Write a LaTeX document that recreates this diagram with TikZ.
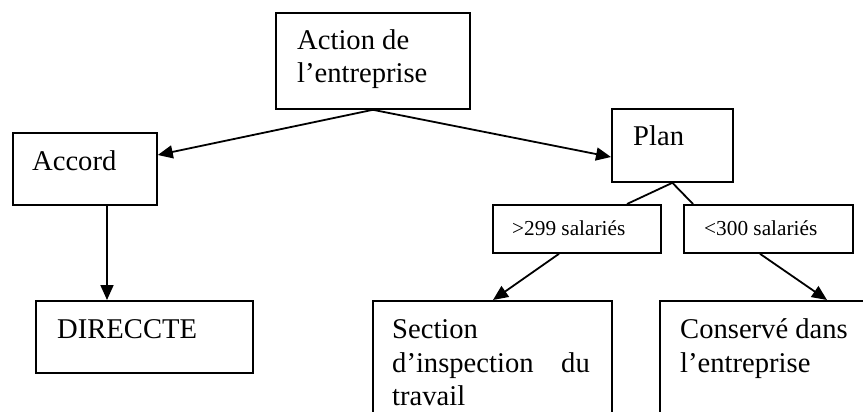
\documentclass[tikz,border=0pt]{standalone}
\usepackage{fontspec}
\setmainfont{Liberation Serif}
\usetikzlibrary{arrows.meta,calc}
\begin{document}
\begin{tikzpicture}[x=1pt,y=-1pt,
  box/.style={draw,line width=1.8pt,rectangle,inner sep=0pt,anchor=north west},
  big/.style={inner sep=0pt,font=\fontsize{28.6}{33}\selectfont},
  small/.style={inner sep=0pt,font=\fontsize{21.3}{25}\selectfont},
  conn/.style={line width=1.8pt},
  arr/.style={line width=1.8pt,-{Triangle[length=15pt,width=13pt]}}]
\useasboundingbox (0,0) rectangle (863,412);
\clip (0,0) rectangle (863,412);
% boxes
\node[box,minimum width=194pt,minimum height=96pt] (action) at (275,12) {};
\node[box,minimum width=144pt,minimum height=72pt] (accord) at (12,132) {};
\node[box,minimum width=121pt,minimum height=73pt] (plan) at (611,108) {};
\node[box,minimum width=217pt,minimum height=72pt] (dir) at (35,300) {};
\node[box,minimum width=168pt,minimum height=48pt] (gt) at (492,204) {};
\node[box,minimum width=169pt,minimum height=48pt] (lt) at (683,204) {};
\node[box,minimum width=239pt,minimum height=140pt] (sec) at (372,300) {};
\node[box,minimum width=230pt,minimum height=140pt] (cons) at (659,300) {};
% texts
\node[big,anchor=base west] (t1) at (297,50) {Action de};
\node[big,anchor=base west] (t2) at (297,83) {l’entreprise};
\node[big,anchor=base west] (t3) at (32,170) {Accord};
\node[big,anchor=base west] (t4) at (633,145) {Plan};
\node[big,anchor=base west] (t5) at (57,338) {DIRECCTE};
\node[small,anchor=base west] (t6) at (512,235) {>299 salariés};
\node[small,anchor=base west] (t7) at (704,235) {<300 salariés};
\node[big,anchor=base west] (t8) at (392,338) {Section};
\node[big,anchor=base west] (t9) at (392,372) {d’inspection};
\node[big,anchor=base east] (t10) at (590,372) {du};
\node[big,anchor=base west] (t11) at (392,405) {travail};
\node[big,anchor=base west] (t12) at (680,338) {Conservé dans};
\node[big,anchor=base west] (t13) at (680,372) {l’entreprise};
% connectors
\draw[arr] (action.south) -- ($(accord.north east)+(0,23)$);
\draw[arr] (action.south) -- ($(plan.north west)+(0,49)$);
\draw[arr] ($(accord.south west)+(95,0)$) -- ($(dir.north west)+(72,0)$);
\draw[conn] (plan.south) -- ($(gt.north west)+(135,0)$);
\draw[conn] (plan.south) -- ($(lt.north west)+(10,0)$);
\draw[arr] ($(gt.south west)+(67,0)$) -- ($(sec.north west)+(121,0)$);
\draw[arr] ($(lt.south west)+(77,0)$) -- ($(cons.north west)+(168,0)$);
\end{tikzpicture}
\end{document}
